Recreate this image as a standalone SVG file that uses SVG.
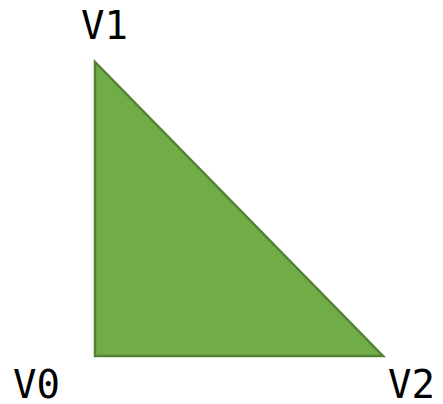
<svg xmlns="http://www.w3.org/2000/svg" width="443" height="404" viewBox="0 0 443 404">
<style>
.lbl{font-family:"DejaVu Sans Mono","Liberation Mono",monospace;font-size:39px;fill:#000}
.tri{fill:#70AD47;stroke:#548235;stroke-width:2.5}
</style>
<rect width="443" height="404" fill="#fff"/>
<g id="connectors"></g>
<g id="triangle"><polygon class="tri" points="95,62 95,356 383,356"/></g>
<g id="v1"><text class="lbl" x="81" y="39">V1</text></g>
<g id="v0"><text class="lbl" x="13" y="398">V0</text></g>
<g id="v2"><text class="lbl" x="388" y="398">V2</text></g>
</svg>
